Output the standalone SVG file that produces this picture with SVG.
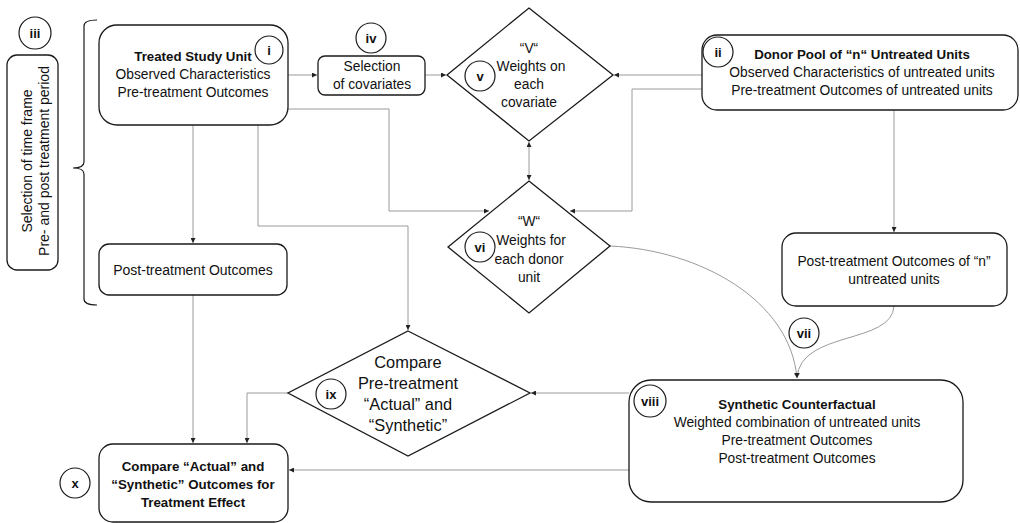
<svg xmlns="http://www.w3.org/2000/svg" width="1020" height="523" viewBox="0 0 1020 523">
<style>
text{font-family:"Liberation Sans",Arial,sans-serif;fill:#111;text-anchor:middle}
.box{fill:#fff;stroke:#1a1a1a;stroke-width:1.3}
.t{font-size:13.8px}
.b{font-size:13.3px;font-weight:bold}
.big{font-size:16.4px}
.lbl{fill:none;stroke:#1a1a1a;stroke-width:1.2}
.lt{font-size:13px;font-weight:bold}
.con path{fill:none;stroke:#9a9a9a;stroke-width:1}
</style>
<defs>
<marker id="ah" viewBox="0 0 10 10" refX="10" refY="5" markerWidth="5" markerHeight="5" markerUnits="userSpaceOnUse" orient="auto-start-reverse">
<path d="M0,0 L10,5 L0,10 z" fill="#222"/>
</marker>
</defs>
<rect width="1020" height="523" fill="#fff"/>

<g class="con">
<path d="M288,75 H317" marker-end="url(#ah)"/>
<path d="M425,75 H446" marker-end="url(#ah)"/>
<path d="M702,75 H614" marker-end="url(#ah)"/>
<path d="M288,109 H389 V211 H489" marker-end="url(#ah)"/>
<path d="M702,89 H632 V211 H570" marker-end="url(#ah)"/>
<path d="M529,142 V180" marker-start="url(#ah)" marker-end="url(#ah)"/>
<path d="M193,125 V243" marker-end="url(#ah)"/>
<path d="M258,125 V226 H408 V330" marker-end="url(#ah)"/>
<path d="M894,110 V232" marker-end="url(#ah)"/>
<path d="M610,246 C700,250 790,300 797,378" marker-end="url(#ah)"/>
<path d="M894,306 C892,345 800,330 797,378" marker-end="url(#ah)"/>
<path d="M629,393 H531" marker-end="url(#ah)"/>
<path d="M288,393 H247 V443" marker-end="url(#ah)"/>
<path d="M629,470 H289" marker-end="url(#ah)"/>
<path d="M193,295 V443" marker-end="url(#ah)"/>
</g>

<g id="timeframe">
<circle class="lbl" cx="35" cy="33" r="16"/>
<text class="lt" x="35" y="38">iii</text>
<rect class="box" x="7" y="55" width="51" height="215" rx="10"/>
<text class="t" style="font-size:14px" transform="translate(32,161) rotate(-90)">Selection of time frame</text>
<text class="t" style="font-size:14px" transform="translate(49,161) rotate(-90)">Pre- and post treatment period</text>
<path d="M97,20 Q84,20 84,26 V162 Q84,168 73,168 Q84,168 84,174 V299 Q84,305 97,305" fill="none" stroke="#1a1a1a" stroke-width="1.2"/>
</g>

<g id="treated">
<rect class="box" x="99" y="25" width="189" height="100" rx="18"/>
<text class="b" x="193" y="61">Treated Study Unit</text>
<text class="t" x="193" y="79">Observed Characteristics</text>
<text class="t" x="193" y="97">Pre-treatment Outcomes</text>
<circle class="lbl" cx="269" cy="50" r="14"/>
<text class="lt" x="269" y="55">i</text>
</g>

<g id="post-treated">
<rect class="box" x="99" y="244" width="188" height="51" rx="10"/>
<text class="t" style="font-size:14px" x="193" y="275">Post-treatment Outcomes</text>
</g>

<g id="covariates">
<circle class="lbl" cx="371" cy="38" r="15"/>
<text class="lt" x="371" y="43">iv</text>
<rect class="box" x="318" y="56" width="107" height="39" rx="7"/>
<text class="t" x="372" y="71">Selection</text>
<text class="t" x="372" y="89">of covariates</text>
</g>

<g id="v-weights">
<polygon class="box" points="529,8 613,75 529,141 447,75"/>
<text class="t" x="529" y="53">“V“</text>
<text class="t" x="531" y="71">Weights on</text>
<text class="t" x="529" y="89">each</text>
<text class="t" x="529" y="107">covariate</text>
<circle class="lbl" cx="480" cy="76" r="15"/>
<text class="lt" x="480" y="81">v</text>
</g>

<g id="donor">
<rect class="box" x="702" y="35" width="316" height="75" rx="15"/>
<circle class="lbl" cx="718" cy="52" r="15"/>
<text class="lt" x="718" y="57">ii</text>
<text class="b" x="862" y="59">Donor Pool of “n“ Untreated Units</text>
<text class="t" x="862" y="77">Observed Characteristics of untreated units</text>
<text class="t" x="862" y="95">Pre-treatment Outcomes of untreated units</text>
</g>

<g id="w-weights">
<polygon class="box" points="529,181 610,246 529,313 448,247"/>
<text class="t" x="529" y="226">“W“</text>
<text class="t" x="531" y="245">Weights for</text>
<text class="t" x="529" y="264">each donor</text>
<text class="t" x="529" y="282">unit</text>
<circle class="lbl" cx="480" cy="247" r="15"/>
<text class="lt" x="480" y="252">vi</text>
</g>

<g id="post-donor">
<rect class="box" x="782" y="233" width="225" height="73" rx="14"/>
<text class="t" x="894" y="266">Post-treatment Outcomes of “n”</text>
<text class="t" x="894" y="284">untreated units</text>
</g>

<g id="vii">
<circle class="lbl" cx="804" cy="333" r="15"/>
<text class="lt" x="804" y="338">vii</text>
</g>

<g id="synthetic">
<rect class="box" x="629" y="380" width="334" height="122" rx="22"/>
<circle class="lbl" cx="650" cy="401" r="16"/>
<text class="lt" x="650" y="406">viii</text>
<text class="b" x="797" y="409">Synthetic Counterfactual</text>
<text class="t" x="797" y="427">Weighted combination of untreated units</text>
<text class="t" x="797" y="445">Pre-treatment Outcomes</text>
<text class="t" x="797" y="463">Post-treatment Outcomes</text>
</g>

<g id="compare-pre">
<polygon class="box" points="408,331 530,393 408,456 288,393"/>
<text class="big" x="408" y="368">Compare</text>
<text class="big" x="408" y="389">Pre-treatment</text>
<text class="big" x="408" y="410">“Actual” and</text>
<text class="big" x="408" y="431">“Synthetic”</text>
<circle class="lbl" cx="331" cy="394" r="15"/>
<text class="lt" x="331" y="399">ix</text>
</g>

<g id="compare-final">
<circle class="lbl" cx="75" cy="483" r="15"/>
<text class="lt" x="75" y="488">x</text>
<rect class="box" x="99" y="444" width="189" height="78" rx="14"/>
<text class="b" x="193" y="471">Compare “Actual” and</text>
<text class="b" x="193" y="489">“Synthetic” Outcomes for</text>
<text class="b" x="193" y="507">Treatment Effect</text>
</g>
</svg>
